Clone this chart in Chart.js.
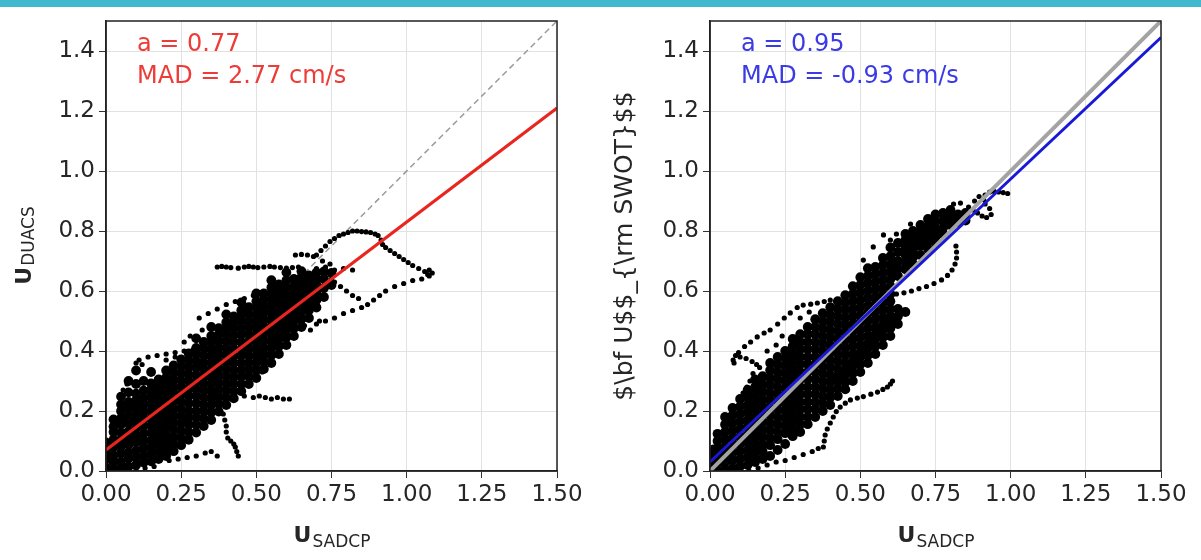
<!DOCTYPE html>
<html>
<head>
<meta charset="utf-8">
<script src="https://cdn.jsdelivr.net/npm/chart.js@4.4.1/dist/chart.umd.min.js"></script>
<style>
  html, body { margin:0; padding:0; background:#ffffff; width:1201px; height:560px; overflow:hidden; }
  #bar { position:absolute; left:0; top:0; width:1201px; height:7px; background:#40b8d0; }
  .panel { position:absolute; top:0; height:560px; }
</style>
</head>
<body>
<div id="bar"></div>
<div class="panel" style="left:0;width:600px;"><canvas id="c1" width="600" height="560"></canvas></div>
<div class="panel" style="left:600px;width:601px;"><canvas id="c2" width="601" height="560"></canvas></div>
<script>
// ---------- text ----------
const xTickLabels = ["0.00","0.25","0.50","0.75","1.00","1.25","1.50"];
const yTickLabels = ["0.0","0.2","0.4","0.6","0.8","1.0","1.2","1.4"];
const leftAnnot = ["a = 0.77", "MAD = 2.77 cm/s"];
const rightAnnot = ["a = 0.95", "MAD = -0.93 cm/s"];
const leftYLabel = ["U", "DUACS"];
const rightYLabel = "$\\bf U$$_{\\rm SWOT}$$";
const xLabel = ["U", "SADCP"];

// ---------- fit lines ([x, y] end points) ----------
const leftFit = [[0, 0.07], [1.5, 1.21]];
const leftOneToOne = [[0, 0], [1.5, 1.5]];
const rightFit = [[0, 0.03], [1.5, 1.445]];
const rightOneToOne = [[0, 0], [1.5, 1.5]];

// ---------- left panel: dense cloud, columns [x, y, y, ...] ----------
const leftCore = [
 [0.000, 0.012,0.04,0.065,0.095],
 [0.025, 0.005,0.03,0.052,0.08,0.104,0.13,0.148,0.172],
 [0.050, 0.01,0.032,0.06,0.083,0.105,0.128,0.155,0.176,0.2,0.222,0.248],
 [0.075, 0.015,0.042,0.063,0.088,0.112,0.133,0.16,0.182,0.207,0.23,0.262,0.3],
 [0.100, 0.02,0.045,0.068,0.095,0.118,0.143,0.165,0.19,0.213,0.236,0.258,0.29,0.335],
 [0.125, 0.028,0.05,0.076,0.1,0.124,0.15,0.172,0.196,0.22,0.243,0.268,0.30],
 [0.150, 0.032,0.057,0.08,0.103,0.128,0.152,0.176,0.2,0.224,0.25,0.272,0.292,0.33],
 [0.175, 0.04,0.064,0.09,0.114,0.138,0.16,0.186,0.21,0.236,0.26,0.282,0.305],
 [0.200, 0.05,0.076,0.1,0.122,0.146,0.17,0.195,0.22,0.242,0.266,0.29,0.312,0.335],
 [0.225, 0.066,0.09,0.114,0.14,0.162,0.186,0.21,0.236,0.26,0.282,0.306,0.33,0.352],
 [0.250, 0.086,0.11,0.134,0.16,0.182,0.206,0.23,0.255,0.28,0.302,0.326,0.35,0.372],
 [0.275, 0.104,0.13,0.155,0.178,0.2,0.226,0.25,0.274,0.3,0.322,0.346,0.37,0.392],
 [0.300, 0.128,0.154,0.178,0.2,0.225,0.25,0.272,0.296,0.32,0.344,0.366,0.39,0.41,0.442],
 [0.325, 0.15,0.175,0.2,0.222,0.246,0.27,0.292,0.316,0.34,0.362,0.386,0.41,0.43],
 [0.350, 0.17,0.196,0.22,0.242,0.266,0.29,0.312,0.336,0.36,0.382,0.405,0.43,0.45,0.48],
 [0.375, 0.198,0.224,0.25,0.272,0.296,0.32,0.342,0.366,0.39,0.412,0.435,0.456,0.476],
 [0.400, 0.22,0.245,0.27,0.292,0.316,0.34,0.362,0.386,0.41,0.432,0.455,0.476,0.496,0.522],
 [0.425, 0.242,0.266,0.29,0.312,0.336,0.36,0.382,0.406,0.43,0.452,0.475,0.496,0.515],
 [0.450, 0.266,0.29,0.315,0.336,0.36,0.385,0.406,0.43,0.455,0.476,0.5,0.52,0.536,0.562],
 [0.475, 0.29,0.316,0.34,0.362,0.386,0.41,0.432,0.456,0.48,0.5,0.524,0.546],
 [0.500, 0.31,0.336,0.36,0.382,0.406,0.43,0.452,0.476,0.5,0.52,0.545,0.566,0.592],
 [0.525, 0.34,0.366,0.39,0.412,0.436,0.46,0.482,0.506,0.53,0.55,0.572,0.592],
 [0.550, 0.36,0.386,0.41,0.432,0.456,0.48,0.502,0.526,0.55,0.57,0.592,0.612,0.636],
 [0.575, 0.39,0.416,0.44,0.462,0.486,0.51,0.532,0.556,0.58,0.6,0.622],
 [0.600, 0.42,0.446,0.47,0.492,0.516,0.54,0.562,0.586,0.61,0.636,0.662],
 [0.625, 0.45,0.476,0.5,0.522,0.546,0.57,0.592,0.616,0.64],
 [0.650, 0.48,0.506,0.53,0.552,0.576,0.6,0.622,0.646,0.666],
 [0.675, 0.51,0.536,0.56,0.582,0.606,0.63,0.652],
 [0.700, 0.545,0.57,0.596,0.62,0.642,0.662],
 [0.725, 0.58,0.61,0.64,0.665],
 [0.750, 0.62,0.66]
];

// ---------- left panel: sparse tracks, [x, y] ----------
const leftRowTrack = [[0.37,0.68],[0.385,0.682],[0.40,0.68],[0.415,0.678],[0.44,0.676],[0.46,0.68],[0.475,0.682],[0.49,0.68],[0.505,0.678],[0.525,0.68],[0.545,0.682],[0.56,0.68],[0.58,0.678],[0.60,0.676],[0.62,0.678],[0.64,0.68],[0.70,0.675],[0.73,0.68],[0.76,0.67],[0.79,0.675],[0.82,0.67]];
const leftUpperTrack = [[0.70,0.72],[0.715,0.735],[0.73,0.75],[0.745,0.765],[0.76,0.775],[0.775,0.785],[0.79,0.79],[0.805,0.795],[0.82,0.80],[0.835,0.80],[0.85,0.798],[0.865,0.797],[0.88,0.795],[0.895,0.79],[0.905,0.785],[0.915,0.77],[0.92,0.755],[0.93,0.745],[0.945,0.735],[0.96,0.725],[0.975,0.715],[0.99,0.705],[1.005,0.695],[1.02,0.685],[1.04,0.675],[1.06,0.665],[1.075,0.67],[1.085,0.66],[1.07,0.655],[0.63,0.72],[0.65,0.722],[0.67,0.72],[0.69,0.715],[0.72,0.70],[0.745,0.69]];
const leftMidTrack = [[0.66,0.485],[0.70,0.49],[0.73,0.50],[0.76,0.51],[0.79,0.525],[0.82,0.535],[0.85,0.545],[0.87,0.555],[0.89,0.57],[0.91,0.585],[0.93,0.60],[0.96,0.615],[0.99,0.625],[1.02,0.635],[1.05,0.64],[1.075,0.65],[0.68,0.47],[0.71,0.50],[0.73,0.645],[0.75,0.64],[0.76,0.63],[0.78,0.615],[0.80,0.60],[0.82,0.585],[0.84,0.575]];
const leftLowTracks = [[0.46,0.25],[0.49,0.245],[0.51,0.25],[0.53,0.245],[0.55,0.24],[0.57,0.245],[0.59,0.24],[0.61,0.24],
 [0.39,0.19],[0.395,0.17],[0.40,0.15],[0.40,0.13],[0.405,0.11],[0.415,0.10],[0.425,0.09],[0.43,0.08],[0.435,0.065],[0.44,0.05],
 [0.18,0.04],[0.21,0.035],[0.24,0.04],[0.27,0.045],[0.30,0.05],[0.33,0.06],[0.35,0.065],[0.37,0.05],
 [0.03,0.0],[0.06,0.0],[0.10,0.005],[0.13,0.01],[0.16,0.015],[0.50,0.32],[0.52,0.33],[0.53,0.345]];
const leftUpperLeftTrack = [[0.11,0.37],[0.14,0.38],[0.17,0.385],[0.20,0.39],[0.23,0.395],[0.26,0.40],[0.29,0.405],
 [0.12,0.355],[0.10,0.36],[0.20,0.37],[0.23,0.38],[0.26,0.43],[0.28,0.45],[0.32,0.47],
 [0.31,0.51],[0.34,0.525],[0.37,0.54],[0.40,0.555],[0.43,0.565],[0.46,0.575],[0.49,0.585],[0.51,0.595],[0.057,0.27],[0.07,0.29]];

// ---------- right panel: dense cloud, columns [x, y, y, ...] ----------
const rightCore = [
 [0.000, 0.01,0.035,0.06],
 [0.025, 0.0,0.025,0.05,0.076,0.1,0.124],
 [0.050, 0.006,0.03,0.055,0.08,0.106,0.13,0.155,0.18],
 [0.075, 0.01,0.036,0.06,0.086,0.11,0.135,0.16,0.186,0.21],
 [0.100, 0.016,0.04,0.066,0.09,0.115,0.14,0.166,0.19,0.215,0.24],
 [0.125, 0.02,0.046,0.07,0.096,0.12,0.146,0.17,0.196,0.22,0.246,0.27],
 [0.150, 0.03,0.056,0.08,0.106,0.13,0.156,0.18,0.206,0.23,0.256,0.28,0.305],
 [0.175, 0.04,0.066,0.09,0.116,0.14,0.166,0.19,0.216,0.24,0.266,0.29,0.316],
 [0.200, 0.05,0.086,0.11,0.136,0.16,0.186,0.21,0.236,0.26,0.286,0.31,0.336,0.36],
 [0.225, 0.07,0.106,0.13,0.156,0.18,0.206,0.23,0.256,0.28,0.306,0.33,0.356,0.38],
 [0.250, 0.09,0.126,0.15,0.176,0.2,0.226,0.25,0.276,0.3,0.326,0.35,0.376,0.4],
 [0.275, 0.116,0.14,0.166,0.19,0.216,0.24,0.266,0.29,0.316,0.34,0.366,0.39,0.416,0.44],
 [0.300, 0.13,0.156,0.18,0.206,0.23,0.256,0.28,0.306,0.33,0.356,0.38,0.406,0.43,0.456],
 [0.325, 0.156,0.18,0.206,0.23,0.256,0.28,0.306,0.33,0.356,0.38,0.406,0.43,0.456,0.48],
 [0.350, 0.18,0.206,0.23,0.256,0.28,0.306,0.33,0.356,0.38,0.406,0.43,0.456,0.48,0.506],
 [0.375, 0.2,0.226,0.25,0.276,0.3,0.326,0.35,0.376,0.4,0.426,0.45,0.476,0.5,0.526],
 [0.400, 0.22,0.246,0.27,0.296,0.32,0.346,0.37,0.396,0.42,0.446,0.47,0.496,0.52,0.546],
 [0.425, 0.25,0.276,0.3,0.316,0.34,0.366,0.39,0.416,0.44,0.466,0.49,0.516,0.54,0.566],
 [0.450, 0.272,0.296,0.32,0.336,0.36,0.386,0.41,0.436,0.46,0.486,0.51,0.536,0.56,0.586],
 [0.475, 0.3,0.326,0.35,0.366,0.39,0.416,0.44,0.466,0.49,0.516,0.54,0.566,0.59,0.616],
 [0.500, 0.33,0.356,0.38,0.396,0.42,0.446,0.47,0.496,0.52,0.546,0.57,0.596,0.62,0.646],
 [0.525, 0.36,0.386,0.41,0.426,0.45,0.476,0.5,0.526,0.55,0.576,0.6,0.626,0.65,0.676],
 [0.550, 0.39,0.416,0.44,0.456,0.48,0.506,0.53,0.556,0.58,0.606,0.63,0.656,0.68],
 [0.575, 0.42,0.446,0.47,0.486,0.51,0.536,0.56,0.586,0.61,0.636,0.66,0.686,0.71],
 [0.600, 0.45,0.476,0.5,0.516,0.54,0.566,0.59,0.616,0.64,0.666,0.69,0.716,0.745],
 [0.625, 0.49,0.516,0.54,0.65,0.676,0.7,0.73,0.76],
 [0.650, 0.53,0.672,0.696,0.72,0.745,0.77,0.79],
 [0.675, 0.69,0.712,0.735,0.76,0.785,0.8],
 [0.700, 0.72,0.75,0.775,0.8,0.82],
 [0.725, 0.74,0.765,0.79,0.815,0.84],
 [0.750, 0.76,0.78,0.805,0.83,0.855],
 [0.775, 0.79,0.81,0.835,0.86],
 [0.800, 0.82,0.845,0.87],
 [0.825, 0.83,0.855],
 [0.850, 0.835,0.86]
];

// ---------- right panel: sparse tracks, [x, y] ----------
const rightArcTrack = [[0.077,0.37],[0.095,0.395],[0.115,0.415],[0.135,0.43],[0.157,0.447],[0.18,0.46],[0.2,0.47],[0.225,0.49],[0.247,0.51],[0.267,0.527],[0.29,0.545],[0.31,0.553],[0.335,0.556],[0.357,0.56],[0.38,0.565],[0.40,0.57],
 [0.08,0.36],[0.085,0.385],[0.10,0.38],[0.12,0.375],[0.14,0.365],[0.155,0.355],[0.165,0.345],[0.19,0.40],[0.22,0.42],[0.24,0.45],[0.30,0.51],[0.33,0.53]];
const rightEdgeTrack = [[0.01,0.08],[0.023,0.1],[0.035,0.125],[0.047,0.148],[0.06,0.17],[0.072,0.193],[0.085,0.215],[0.097,0.238],[0.11,0.26],[0.123,0.28],[0.133,0.3],[0.143,0.325],
 [0.13,0.0],[0.16,0.01],[0.19,0.02],[0.22,0.03],[0.25,0.035],[0.28,0.045],[0.31,0.055],[0.34,0.065],[0.36,0.075]];
const rightLowTrack = [[0.377,0.08],[0.38,0.1],[0.383,0.12],[0.39,0.14],[0.4,0.16],[0.41,0.18],[0.42,0.198],[0.433,0.213],[0.45,0.226],[0.467,0.237],[0.49,0.243],[0.51,0.248],[0.535,0.256],[0.557,0.263],[0.575,0.272],[0.59,0.28],[0.6,0.29],[0.607,0.3]];
const rightUpperTrack = [[0.62,0.59],[0.645,0.594],[0.67,0.6],[0.695,0.608],[0.72,0.615],[0.745,0.625],[0.77,0.637],[0.79,0.652],[0.805,0.67],[0.815,0.69],[0.82,0.71],[0.82,0.73],[0.818,0.75],
 [0.86,0.88],[0.875,0.87],[0.89,0.86],[0.905,0.85],[0.92,0.845],[0.935,0.855],[0.93,0.875],[0.915,0.89],[0.91,0.905],[0.915,0.92],[0.93,0.93],[0.945,0.932],[0.96,0.93],[0.975,0.928],[0.99,0.925],[0.88,0.9],[0.895,0.915],
 [0.81,0.89],[0.833,0.893],[0.577,0.787],[0.543,0.747],[0.667,0.823],[0.51,0.703],[0.60,0.77],[0.62,0.79]];

// ---------- helpers ----------
function fromCols(cols){ const p=[]; cols.forEach(c=>{ for(let i=1;i<c.length;i++) p.push({x:c[0], y:c[i]}); }); return p; }
function fromPairs(){ const p=[]; for(const arr of arguments) arr.forEach(q=>p.push({x:q[0], y:q[1]})); return p; }

const tickFont = { family: "DejaVu Sans", size: 23 };

function scales(yWidth){
  return {
    x: {
      type:'linear', min:0, max:1.5,
      afterFit: s => { s.height = 89; },
      ticks:{ stepSize:0.25, color:'#262626', font:tickFont, padding:3, maxRotation:0,
              callback:(v)=>xTickLabels[Math.round(v/0.25)] },
      grid:{ color:'#e2e2e2', lineWidth:1, tickColor:'#333', tickLength:7 },
      border:{ color:'#222', width:1.5 }
    },
    y: {
      type:'linear', min:0, max:1.5,
      afterFit: s => { s.width = yWidth; },
      ticks:{ stepSize:0.2, includeBounds:false, color:'#262626', font:tickFont, padding:4,
              callback:(v)=>yTickLabels[Math.round(v/0.2)] },
      grid:{ color:'#e2e2e2', lineWidth:1, tickColor:'#333', tickLength:7 },
      border:{ color:'#222', width:1.5 }
    }
  };
}

const deco = {
  id:'deco',
  afterDraw(chart, args, o){
    const ctx = chart.ctx, a = chart.chartArea;
    ctx.save();
    ctx.strokeStyle = '#222'; ctx.lineWidth = 1.5;
    ctx.strokeRect(a.left, a.top, a.right - a.left, a.bottom - a.top);
    ctx.fillStyle = o.color; ctx.font = '24px "DejaVu Sans"'; ctx.textBaseline = 'middle'; ctx.textAlign='left';
    ctx.fillText(o.annot[0], a.left + 31, a.top + 24);
    ctx.fillText(o.annot[1], a.left + 31, a.top + 56);
    ctx.fillStyle = '#262626'; ctx.textBaseline = 'alphabetic';
    const drawSub = (main, sub, cx, cy) => {
      ctx.font = 'bold 22px "DejaVu Sans"'; const w1 = ctx.measureText(main).width;
      ctx.font = '17px "DejaVu Sans"'; const w2 = ctx.measureText(sub).width;
      const x0 = cx - (w1 + w2) / 2;
      ctx.font = 'bold 22px "DejaVu Sans"'; ctx.fillText(main, x0, cy);
      ctx.font = '17px "DejaVu Sans"'; ctx.fillText(sub, x0 + w1 + 1, cy + 5);
    };
    const cx = (a.left + a.right) / 2, cy = (a.top + a.bottom) / 2;
    drawSub(xLabel[0], xLabel[1], cx, 542);
    ctx.save();
    ctx.translate(o.ylabX, cy);
    ctx.rotate(-Math.PI / 2);
    if (o.ylabPlain) {
      ctx.font = '25px "DejaVu Sans"'; ctx.textAlign = 'center'; ctx.textBaseline='middle';
      ctx.fillText(o.ylabPlain, 0, 0);
    } else {
      ctx.textBaseline = 'middle';
      drawSub(o.ylab[0], o.ylab[1], 0, 0);
    }
    ctx.restore();
    ctx.restore();
  }
};

function lineDs(pts, color, width, dash, order){
  return { type:'line', data: fromPairs(pts), borderColor:color, borderWidth:width, borderDash:dash,
           pointRadius:0, fill:false, order:order, tension:0 };
}

function makeChart(id, cfg){
  return new Chart(document.getElementById(id), {
    type:'scatter',
    data:{ datasets: cfg.datasets },
    plugins:[deco],
    options:{
      responsive:false, animation:false, devicePixelRatio:1,
      layout:{ padding:{ left:0, top:21, right:cfg.padRight, bottom:0 } },
      scales: scales(cfg.yWidth),
      plugins:{ legend:{display:false}, tooltip:{enabled:false}, deco: cfg.deco }
    }
  });
}

makeChart('c1', {
  yWidth:106, padRight:43,
  deco:{ color:'#ef3b37', annot:leftAnnot, ylab:leftYLabel, ylabX:25 },
  datasets:[
    lineDs(leftFit, '#e8251f', 3, [], 0),
    { data: fromPairs(leftRowTrack, leftUpperTrack, leftMidTrack, leftLowTracks, leftUpperLeftTrack), backgroundColor:'#000', borderWidth:0, pointRadius:2.6, order:2 },
    { data: fromCols(leftCore), backgroundColor:'#000', borderWidth:0, pointRadius:4.9, order:3 },
    lineDs(leftOneToOne, '#9a9a9a', 1.5, [6,4], 4)
  ]
});

makeChart('c2', {
  yWidth:110, padRight:40,
  deco:{ color:'#3b3be6', annot:rightAnnot, ylabPlain:rightYLabel, ylabX:25 },
  datasets:[
    lineDs(rightFit, '#1818d6', 3, [], 0),
    lineDs(rightOneToOne, '#a3a3a3', 4, [], 1),
    { data: fromPairs(rightArcTrack, rightEdgeTrack, rightLowTrack, rightUpperTrack), backgroundColor:'#000', borderWidth:0, pointRadius:2.6, order:2 },
    { data: fromCols(rightCore), backgroundColor:'#000', borderWidth:0, pointRadius:4.9, order:3 }
  ]
});
</script>
</body>
</html>
